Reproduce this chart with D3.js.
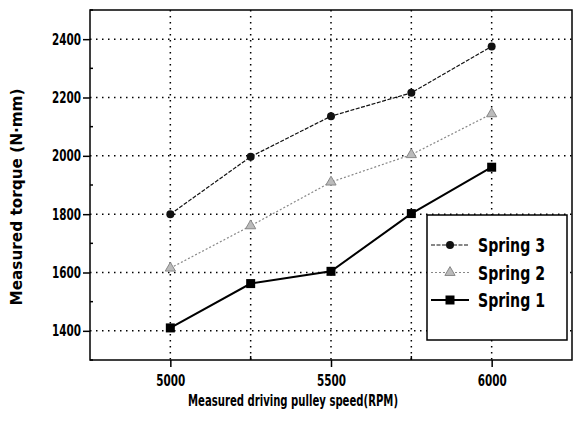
<!DOCTYPE html>
<html><head><meta charset="utf-8">
<script src="https://cdn.jsdelivr.net/npm/d3@7"></script>
<style>
body{margin:0;background:#fff;}
text{font-family:"DejaVu Sans","Liberation Sans",sans-serif;font-stretch:condensed;font-weight:bold;fill:#000;}
</style></head>
<body><svg id="c" width="573" height="421"></svg>
<script>
const speeds = [5000, 5250, 5500, 5750, 6000];
const spring3 = [1800, 1997, 2136, 2216, 2375];
const spring2 = [1615, 1760, 1910, 2004, 2144];
const spring1 = [1410, 1562, 1604, 1802, 1961];
const xTickLabels = [5000, 5500, 6000];
const yTickLabels = [1400, 1600, 1800, 2000, 2200, 2400];
const seriesNames = ["Spring 3", "Spring 2", "Spring 1"];

const svg = d3.select("#c");
const L = 90, R = 572, T = 10, B = 360;
const x = d3.scaleLinear().domain([4750, 6250]).range([L, R]);
const y = d3.scaleLinear().domain([1300, 2500]).range([B, T]);

// grid
const g = svg.append("g");
g.selectAll("line.hg").data(yTickLabels).enter().append("line")
  .attr("x1", L).attr("x2", R).attr("y1", d => y(d)).attr("y2", d => y(d))
  .attr("stroke", "#000").attr("stroke-width", 1.5).attr("stroke-dasharray", "1.5,4.5");
g.selectAll("line.vg").data(speeds).enter().append("line")
  .attr("y1", T).attr("y2", B).attr("x1", d => x(d)).attr("x2", d => x(d))
  .attr("stroke", "#000").attr("stroke-width", 1.5).attr("stroke-dasharray", "1.5,4.5");

// frame
svg.append("rect").attr("x", L).attr("y", T).attr("width", R - L).attr("height", B - T)
  .attr("fill", "none").attr("stroke", "#000").attr("stroke-width", 1.5);

// axes
const yAxis = d3.axisLeft(y).tickValues(yTickLabels).tickSize(7).tickPadding(2).tickFormat(d3.format("d"));
const ya = svg.append("g").attr("transform", `translate(${L},0)`).call(yAxis);
const xAxis = d3.axisBottom(x).tickValues(xTickLabels).tickSize(7).tickPadding(8).tickFormat(d3.format("d"));
const xa = svg.append("g").attr("transform", `translate(0,${B})`).call(xAxis);
[ya, xa].forEach(a => { a.select(".domain").remove(); a.selectAll("line").attr("stroke", "#000").attr("stroke-width", 1.5);
  a.selectAll("text").style("font-size", "15.5px").attr("fill", "#000")
   .attr("textLength", 29).attr("lengthAdjust", "spacingAndGlyphs"); });
// minor ticks
svg.selectAll("line.ym").data(d3.range(1300, 2501, 100).filter(v => v % 200 !== 0)).enter().append("line")
  .attr("x1", L).attr("x2", L + 3).attr("y1", d => y(d)).attr("y2", d => y(d)).attr("stroke", "#000").attr("stroke-width", 1.5);
svg.selectAll("line.xm").data([5250, 5750]).enter().append("line")
  .attr("y1", B).attr("y2", B - 4).attr("x1", d => x(d)).attr("x2", d => x(d)).attr("stroke", "#000").attr("stroke-width", 1.5);

// titles
svg.append("text").attr("x", 293).attr("y", 406).attr("text-anchor", "middle").style("font-size", "16.5px")
  .attr("textLength", 210).attr("lengthAdjust", "spacingAndGlyphs")
  .text("Measured driving pulley  speed(RPM)");
svg.append("text").attr("transform", "translate(22,197) rotate(-90)").attr("text-anchor", "middle").style("font-size", "15px")
  .attr("textLength", 217).attr("lengthAdjust", "spacingAndGlyphs")
  .text("Measured torque (N·mm)");

// series
const series = [
  {name: seriesNames[0], vals: spring3, color: "#111", width: 1.2, dash: "4,1.5", marker: "circle"},
  {name: seriesNames[1], vals: spring2, color: "#888", width: 1.2, dash: "2,2", marker: "triangle"},
  {name: seriesNames[2], vals: spring1, color: "#000", width: 2, dash: null, marker: "square"}
];
const line = d3.line().x((d, i) => x(speeds[i])).y(d => y(d));
function marker(sel, type, color) {
  if (type === "circle") sel.append("circle").attr("r", 4).attr("fill", color);
  else if (type === "square") sel.append("rect").attr("x", -4.5).attr("y", -4.5).attr("width", 9).attr("height", 9).attr("fill", color);
  else sel.append("path").attr("d", d3.symbol(d3.symbolTriangle, 45)()).attr("fill", "#bbb").attr("stroke", color).attr("stroke-width", 1);
}
series.forEach(s => {
  svg.append("path").attr("d", line(s.vals)).attr("fill", "none").attr("stroke", s.color)
    .attr("stroke-width", s.width).attr("stroke-dasharray", s.dash);
  s.vals.forEach((v, i) => {
    const m = svg.append("g").attr("transform", `translate(${x(speeds[i])},${y(v)})`);
    marker(m, s.marker, s.color);
  });
});

// legend
const lg = svg.append("g");
lg.append("rect").attr("x", 427).attr("y", 215).attr("width", 140).attr("height", 125)
  .attr("fill", "#fff").attr("stroke", "#000").attr("stroke-width", 1.5);
series.forEach((s, i) => {
  const yy = 245 + i * 27.5;
  lg.append("line").attr("x1", 431).attr("x2", 469).attr("y1", yy).attr("y2", yy)
    .attr("stroke", s.color).attr("stroke-width", s.width).attr("stroke-dasharray", s.dash);
  const m = lg.append("g").attr("transform", `translate(450,${yy})`);
  marker(m, s.marker, s.color);
  lg.append("text").attr("x", 478).attr("y", yy + 7).style("font-size", "19px")
    .attr("textLength", 67).attr("lengthAdjust", "spacingAndGlyphs").text(s.name);
});
</script></body></html>
